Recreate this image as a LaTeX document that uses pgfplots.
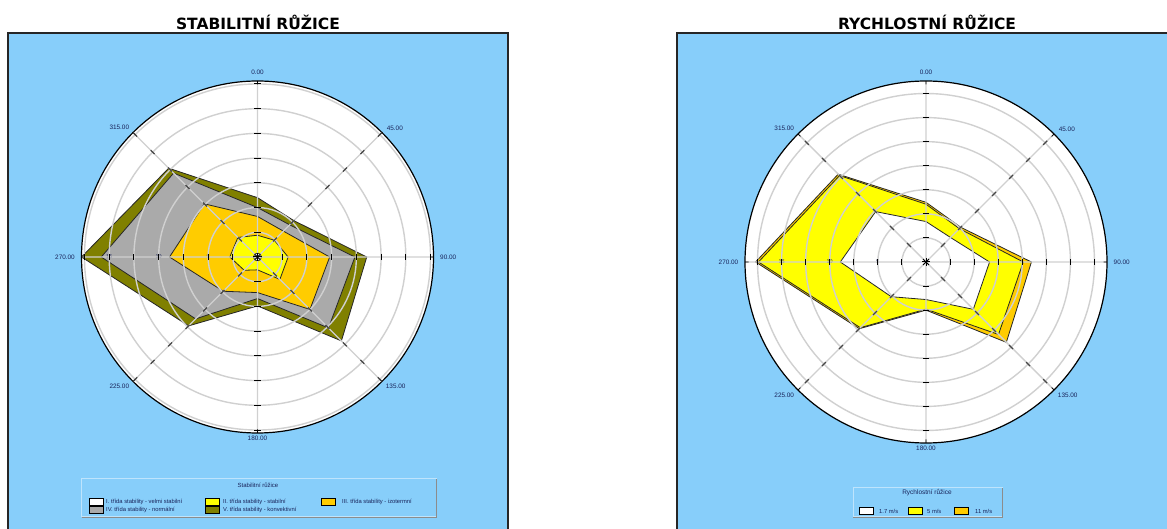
\documentclass[border=0pt]{standalone}
\usepackage{pgfplots}
\pgfplotsset{compat=1.18}
\usepackage{pgfplotstable}
\usepgfplotslibrary{polar}
\usepackage{fontspec}
\setmainfont{Liberation Sans}
\newfontfamily\titlefont{DejaVu Sans}
\definecolor{bgblue}{RGB}{135,206,250}
\definecolor{legedge}{RGB}{190,228,252}
\definecolor{olivec}{RGB}{128,128,0}
\definecolor{grayc}{RGB}{170,170,170}
\definecolor{goldc}{RGB}{255,204,0}
\definecolor{yellowc}{RGB}{255,255,0}
\definecolor{gridc}{RGB}{208,208,208}
\definecolor{labc}{RGB}{25,35,90}
\definecolor{dashc}{RGB}{70,70,70}

% stability rose: cumulative radii by compass direction
\pgfplotstableread{
dir I   II  III IV    V
0   0.4 2.2 4.1 5.0   6.0
45  0.4 2.4 3.7 4.6   5.2
90  0.4 3.1 7.3 9.85  11.05
135 0.4 3.2 7.5 10.15 12.0
180 0.4 1.3 3.6 4.2   4.95
225 0.4 1.9 4.9 8.85  9.85
270 0.4 2.8 8.9 15.8  17.8
315 0.4 2.8 7.6 12.0  12.7
}\stab

% speed rose
\pgfplotstableread{
dir A    B     C
0   4.2  6.0   6.2
45  3.6  4.9   5.1
90  6.6  10.1  10.95
135 6.95 10.65 11.8
180 3.9  4.9   5.0
225 5.1  9.65  9.8
270 8.9  17.4  17.7
315 7.4  12.7  12.9
}\rych

\pgfplotsset{
  roseaxis/.style={
    scale only axis, anchor=center,
    ymin=0,
    xtick={0,45,...,315},
    xticklabels={90.00,45.00,0.00,315.00,270.00,225.00,180.00,135.00},
    ytick={2.5,5,...,17.5},
    yticklabels={},
    ytick style={draw=none},
    xtick style={black, line width=0.7pt},
    tick align=outside,
    major tick length=3.5pt,
    grid=major,
    major grid style={draw=gridc, line width=1.4pt},
    axis line style={black, line width=1.2pt},
    y axis line style={draw=none},
    axis on top,
    xticklabel style={font=\fontsize{6.4}{7}\selectfont, text=labc, inner sep=10pt,
      yshift={-17*sin(\tick)*abs(cos(\tick)) + 4*(sin(\tick)<-0.9)}},
    clip=false,
  },
  poly/.style={draw=black!85, line width=0.8pt, line join=miter},
}

\newcommand{\rticks}{%
  \pgfplotsinvokeforeach{0,90,180,270}{
    \addplot[only marks, mark=|, mark size=3.2pt, mark options={rotate=##1, line width=1pt, draw=black}]
      coordinates {(##1,2.5)(##1,5)(##1,7.5)(##1,10)(##1,12.5)(##1,15)(##1,17.5)};
  }
  \pgfplotsinvokeforeach{45,135,225,315}{
    \addplot[only marks, mark=-, mark size=2.8pt, mark options={rotate=##1, line width=1.1pt, draw=dashc}]
      coordinates {(##1,2.5)(##1,5)(##1,7.5)(##1,10)(##1,12.5)(##1,15)(##1,17.5)};
  }
  \node[font=\fontsize{5.5}{5.5}\selectfont, text=labc, inner sep=0pt] at (axis cs:180,5) {5};
  \node[font=\fontsize{5.5}{5.5}\selectfont, text=labc, inner sep=0pt] at (axis cs:180,10) {10};
  \node[font=\fontsize{5.5}{5.5}\selectfont, text=labc, inner sep=0pt] at (axis cs:180,15) {15};
}

\newcommand{\swatch}[3]{% x, y(center), color
  \filldraw[fill=#3, draw=black, line width=0.7pt] (#1pt,#2pt-3.4pt) rectangle ++(14pt,6.8pt);
}
\newcommand{\legtext}[3]{%
  \node[anchor=west, inner sep=0pt, font=\fontsize{5.8}{6}\selectfont, text=labc] at (#1pt,#2pt) {#3};
}
\newcommand{\centrestar}[2]{%
  \foreach \a in {0,45,90,135} {
    \draw[black, line width=1pt] (#1,#2) ++(\a:4.2) -- ++(\a+180:8.4);
  }
}

\begin{document}
\begin{tikzpicture}[x=1pt,y=1pt]
\useasboundingbox (0,0) rectangle (1167,529);
\fill[white] (0,0) rectangle (1167,529);
\begin{scope}
\clip (0,0) rectangle (1167,529);
\filldraw[fill=bgblue, draw=black!85, line width=1.3pt] (8,-10) rectangle (508,496);
\filldraw[fill=bgblue, draw=black!85, line width=1.3pt] (677,-10) rectangle (1180,496);
\end{scope}

% titles
\node[font=\titlefont\bfseries\fontsize{15.5}{15.5}\selectfont] at (258,507) {STABILITNÍ RŮŽICE};
\node[font=\titlefont\bfseries\fontsize{15.5}{15.5}\selectfont] at (927,507) {RYCHLOSTNÍ RŮŽICE};

% white discs
\fill[white] (257.5,272) circle (176);
\fill[white] (926,267) circle (181);

% ---------- left rose ----------
\begin{polaraxis}[roseaxis, at={(257.5pt,272pt)}, width=352pt, height=352pt, ymax=17.8]
\addplot[poly, fill=olivec] table[x expr={90-\thisrow{dir}}, y=V] {\stab} -- cycle;
\addplot[poly, fill=grayc] table[x expr={90-\thisrow{dir}}, y=IV] {\stab} -- cycle;
\addplot[poly, fill=goldc] table[x expr={90-\thisrow{dir}}, y=III] {\stab} -- cycle;
\addplot[poly, fill=yellowc] table[x expr={90-\thisrow{dir}}, y=II] {\stab} -- cycle;
\addplot[poly, fill=white] table[x expr={90-\thisrow{dir}}, y=I] {\stab} -- cycle;
\rticks
\end{polaraxis}

% ---------- right rose ----------
\begin{polaraxis}[roseaxis, at={(926pt,267pt)}, width=362pt, height=362pt, ymax=18.8]
\addplot[poly, fill=goldc] table[x expr={90-\thisrow{dir}}, y=C] {\rych} -- cycle;
\addplot[poly, fill=yellowc] table[x expr={90-\thisrow{dir}}, y=B] {\rych} -- cycle;
\addplot[poly, fill=white] table[x expr={90-\thisrow{dir}}, y=A] {\rych} -- cycle;
\rticks
\end{polaraxis}

% centre stars
\centrestar{257.5}{272}
\centrestar{926}{267}

% ---------- left legend ----------
\filldraw[fill=bgblue, draw=legedge, line width=1pt] (81.7,12) rectangle (436,50);
\draw[black!45, line width=0.6pt] (81.7,11.5) -- (436.5,11.5) -- (436.5,50);
\node[font=\fontsize{6}{6}\selectfont, text=labc] at (258,44) {Stabilitní růžice};
\swatch{89}{27}{white}   \legtext{106}{27}{I. třída stability - velmi stabilní}
\swatch{205}{27}{yellowc} \legtext{223}{27}{II. třída stability - stabilní}
\swatch{321}{27}{goldc}   \legtext{342}{27}{III. třída stability - izotermní}
\swatch{89}{19}{grayc}   \legtext{106}{19}{IV. třída stability - normální}
\swatch{205}{19}{olivec}  \legtext{223}{19}{V. třída stability - konvektivní}

% ---------- right legend ----------
\filldraw[fill=bgblue, draw=legedge, line width=1pt] (853,12) rectangle (1002,41);
\draw[black!45, line width=0.6pt] (853,11.5) -- (1002.5,11.5) -- (1002.5,41);
\node[font=\fontsize{6.5}{6.5}\selectfont, text=labc] at (927,36) {Rychlostní růžice};
\swatch{859}{18}{white}   \legtext{879}{18}{1.7 m/s}
\swatch{908}{18}{yellowc} \legtext{927}{18}{5 m/s}
\swatch{954.5}{18}{goldc} \legtext{975}{18}{11 m/s}
\end{tikzpicture}
\end{document}
